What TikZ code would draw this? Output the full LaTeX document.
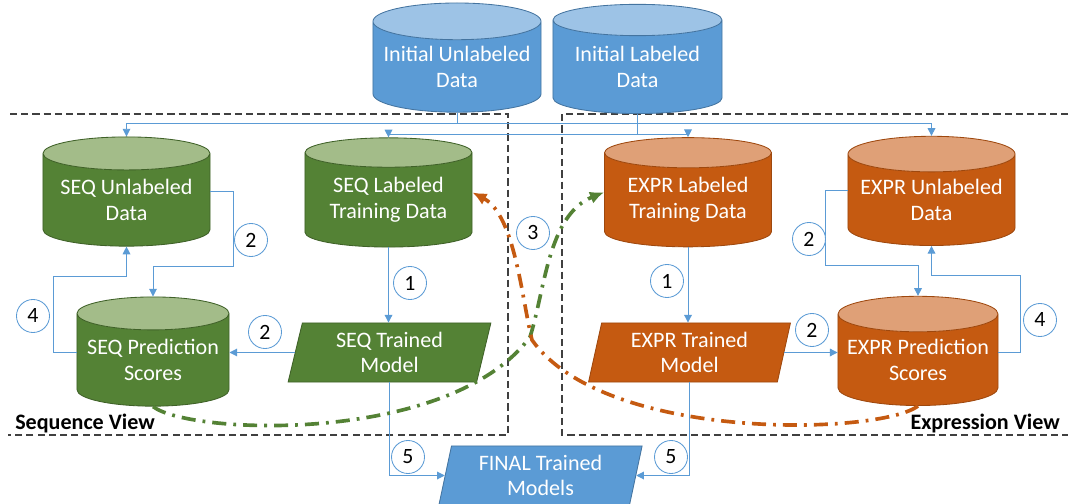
\documentclass[tikz,border=0pt]{standalone}
\usepackage{fontspec}
\setmainfont{Carlito}
\usepackage{tikz}
\usetikzlibrary{arrows.meta,calc,positioning,shapes.geometric}
\definecolor{initblue}{HTML}{5B9BD5}
\definecolor{inittop}{HTML}{9DC3E6}
\definecolor{seqgreen}{HTML}{548235}
\definecolor{seqtop}{HTML}{A3BC89}
\definecolor{exprorange}{HTML}{C55A11}
\definecolor{exprtop}{HTML}{DFA077}
\definecolor{flowblue}{HTML}{5B9BD5}
\definecolor{boxgray}{HTML}{404040}
\newcommand{\dbfont}{\fontsize{15.7}{18.2}\selectfont}
\tikzset{
    cyl/.style={cylinder,shape border rotate=90,aspect=0.25,line width=0.6pt,
        cylinder uses custom fill,text=white,align=center,font=\dbfont,
        inner sep=0pt,minimum height=2.73cm},
    initdb/.style={cyl,draw=initblue!75!black,cylinder body fill=initblue,cylinder end fill=inittop},
    seqdb/.style={cyl,draw=seqgreen!75!black,cylinder body fill=seqgreen,cylinder end fill=seqtop},
    exprdb/.style={cyl,draw=exprorange!80!black,cylinder body fill=exprorange,cylinder end fill=exprtop},
    model/.style={trapezium,trapezium left angle=78,trapezium right angle=102,
        trapezium stretches=true,minimum width=5.075cm,minimum height=1.475cm,
        line width=0.6pt,text=white,align=center,font=\dbfont,inner sep=0pt},
    flow/.style={draw=flowblue,line width=0.7pt,-{Triangle[length=5.5pt,width=5.5pt]}},
    numcirc/.style={circle,draw=flowblue,fill=white,line width=0.6pt,
        minimum size=0.825cm,inner sep=0pt,font=\fontsize{15.5}{15.5}\selectfont},
    viewbox/.style={draw=boxgray,line width=0.8pt,dash pattern=on 5pt off 3pt},
    viewlabel/.style={font=\fontsize{15.7}{18}\selectfont\bfseries,inner sep=0pt},
    backflow/.style={line width=2.6pt,dash pattern=on 10pt off 5pt on 2pt off 5pt,
        -{Latex[length=10pt,width=9pt]}}
}

\begin{document}
\begin{tikzpicture}[x=0.025cm,y=-0.025cm]
  \useasboundingbox (0,0) rectangle (1072,504);

  % view frames
  \draw[viewbox] (10,114) -- (508,114) -- (508,435) -- (8,435);
  \draw[viewbox] (1068,114) -- (562,114) -- (562,435) -- (1068,435);
  \node[viewlabel,anchor=west] (seqview) at (15,423) {Sequence View};
  \node[viewlabel,anchor=east] (exprview) at (1060,423) {Expression View};

  % data stores
  \node[initdb,minimum width=4.2cm] (initunl) at (457,67) {Initial Unlabeled\\Data};
  \node[initdb,minimum width=4.225cm] (initlab) at (637.5,67) {Initial Labeled\\Data};

  \node[seqdb,minimum width=4.175cm] (sequnl) at (126.5,200) {SEQ Unlabeled\\Data};
  \node[seqdb,minimum width=4.175cm] (seqlab) at (388.5,200) {SEQ Labeled\\Training Data};
  \node[exprdb,minimum width=4.175cm] (exprlab) at (688,200) {EXPR Labeled\\Training Data};
  \node[exprdb,minimum width=4.175cm] (exprunl) at (931.5,200) {EXPR Unlabeled\\Data};

  \node[seqdb,minimum width=3.8cm] (seqpred) at (153,360) {SEQ Prediction\\Scores};
  \node[exprdb,minimum width=4.0cm] (exprpred) at (918,360) {EXPR Prediction\\Scores};

  % models
  \node[model,fill=seqgreen,draw=seqgreen!75!black] (seqmodel) at (389.5,352.5) {SEQ Trained\\Model};
  \node[model,fill=exprorange,draw=exprorange!80!black] (exprmodel) at (689.5,352.5) {EXPR Trained\\Model};
  \node[model,fill=initblue,draw=initblue!75!black,minimum width=5.125cm] (final) at (540.5,475.5) {FINAL Trained\\Models};

  % initial data feeds
  \coordinate (busU) at ($(initunl.south)+(0,10.5)$);
  \coordinate (busL) at ($(initlab.south)+(0,20.5)$);
  \draw[flow] (initunl.south) -- (busU) -| (sequnl.north);
  \draw[flow] (busU) -| (exprunl.north);
  \draw[flow] (initlab.south) -- (busL) -| (seqlab.north);
  \draw[flow] (busL) -| (exprlab.north);

  % sequence view loop
  \draw[flow] (seqlab.south) -- (seqlab.south |- seqmodel.north);
  \draw[flow] (seqmodel.west) -- (seqmodel.west -| seqpred.east);
  \draw[flow] (sequnl.east |- sequnl.shape center) -- ++(23,0)
    |- ($(seqpred.north)+(0,-30)$) -- (seqpred.north);
  \draw[flow] (seqpred.west |- seqmodel.west) -- ++(-23,0)
    |- ($(sequnl.south)+(0,30)$) -- (sequnl.south);
  \draw[flow] (seqmodel.south) |- (final.west);

  % expression view loop
  \draw[flow] (exprlab.south) -- (exprlab.south |- exprmodel.north);
  \draw[flow] (exprmodel.east) -- (exprmodel.east -| exprpred.west);
  \draw[flow] (exprunl.west |- exprunl.shape center) -- ++(-22,0)
    |- ($(exprpred.north)+(0,-30)$) -- (exprpred.north);
  \draw[flow] (exprpred.east |- exprmodel.east) -- ++(22,0)
    |- ($(exprunl.south)+(0,30)$) -- (exprunl.south);
  \draw[flow] (exprmodel.south) |- (final.east);

  % co-training exchange
  \coordinate (seqmid) at (530,337);
  \coordinate (exprmid) at (532,340);
  \draw[backflow,draw=seqgreen] (seqpred.south)
    .. controls (190,435) and (450,445) .. (seqmid)
    .. controls (545,290) and (548,215) .. (exprlab.west |- exprlab.shape center);
  \draw[backflow,draw=exprorange] (exprpred.south)
    .. controls (880,435) and (605,443) .. (exprmid)
    .. controls (522,300) and (515,215) .. (seqlab.east |- seqlab.shape center);

  % step numbers
  \node[numcirc] (s1) at (410,283) {1};
  \node[numcirc] (s2a) at (251,240) {2};
  \node[numcirc] (s2b) at (265,332) {2};
  \node[numcirc] (s4) at (33,316) {4};
  \node[numcirc] (s5) at (408,457) {5};
  \node[numcirc] (x3) at (533,233) {3};
  \node[numcirc] (e1) at (667,281) {1};
  \node[numcirc] (e2a) at (809,239) {2};
  \node[numcirc] (e2b) at (812,330) {2};
  \node[numcirc] (e4) at (1040,320) {4};
  \node[numcirc] (e5) at (671,457) {5};
\end{tikzpicture}
\end{document}
